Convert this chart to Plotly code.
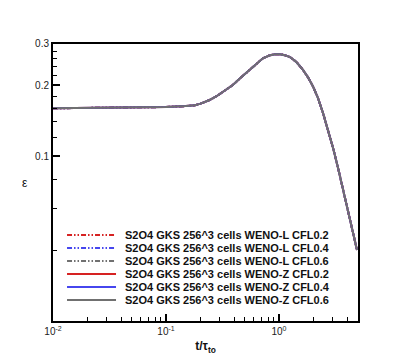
import plotly.graph_objects as go

# time t/tau_to and dissipation rate epsilon (all runs overlap)
t = [0.01, 0.02, 0.05, 0.1, 0.15, 0.18, 0.2, 0.24, 0.28, 0.33, 0.39, 0.46, 0.55,
     0.63, 0.72, 0.82, 0.92, 1.02, 1.12, 1.25, 1.42, 1.63, 1.8, 2.0, 2.2, 2.45,
     2.7, 3.0, 3.3, 3.68, 4.2, 4.9]
eps = [0.160, 0.1605, 0.161, 0.162, 0.1635, 0.1648, 0.167, 0.173, 0.180, 0.190,
       0.201, 0.216, 0.233, 0.248, 0.261, 0.268, 0.2715, 0.2715, 0.269, 0.264,
       0.252, 0.233, 0.217, 0.198, 0.178, 0.153, 0.131, 0.109, 0.091, 0.072,
       0.055, 0.040]

names = ["S2O4 GKS 256^3 cells WENO-L CFL0.2",
         "S2O4 GKS 256^3 cells WENO-L CFL0.4",
         "S2O4 GKS 256^3 cells WENO-L CFL0.6",
         "S2O4 GKS 256^3 cells WENO-Z CFL0.2",
         "S2O4 GKS 256^3 cells WENO-Z CFL0.4",
         "S2O4 GKS 256^3 cells WENO-Z CFL0.6"]
series = [eps, eps, eps, eps, eps, eps]
colors = ["#d62222", "#4646ee", "#707070", "#d62222", "#4646ee", "#707070"]
dashdotdot = "5px,2px,1.5px,2px,1.5px,2px"
dashes = [dashdotdot, dashdotdot, dashdotdot, "solid", "solid", "solid"]

x_major = [0.01, 0.1, 1]
x_major_text = ["10<sup>-2</sup>", "10<sup>-1</sup>", "10<sup>0</sup>"]
x_minor = [m * d for d in (0.01, 0.1, 1) for m in range(2, 10) if m * d <= 5]
y_major = [0.1, 0.2, 0.3]
y_minor = [0.02, 0.04, 0.06, 0.08, 0.12, 0.14, 0.16, 0.18, 0.22, 0.24, 0.26, 0.28]

fig = go.Figure()
shapes = []
annos = []
row_y = [0.3105, 0.2635, 0.2166, 0.1697, 0.1227, 0.0758]
for i, name in enumerate(names):
    fig.add_trace(go.Scatter(x=t, y=series[i], mode="lines", name=name,
                             line=dict(color=colors[i], width=2, dash=dashes[i]),
                             showlegend=False))
    # hand-made legend (compact rows like the original)
    shapes.append(dict(type="line", xref="paper", yref="paper",
                       x0=0.046, x1=0.2066, y0=row_y[i], y1=row_y[i],
                       line=dict(color=colors[i], width=2, dash=dashes[i])))
    annos.append(dict(text="<b>" + name + "</b>", xref="paper", yref="paper",
                      x=0.2295, y=row_y[i], xanchor="left", yanchor="middle",
                      showarrow=False, font=dict(size=11, color="#111")))

annos.append(dict(text="ε", xref="paper", yref="paper", x=-0.108, y=0.5,
                  showarrow=False, font=dict(size=12, color="#111")))

axis_common = dict(showgrid=False, zeroline=False, showline=True, linecolor="black",
                   linewidth=2, mirror=True, ticks="inside", ticklen=7, tickwidth=1.5,
                   tickcolor="black", tickfont=dict(size=10, color="#222"))

# page has an 8px body margin, so the figure is a little smaller than the window
fig.update_layout(
    width=399, height=354,
    margin=dict(l=45, r=49, t=36, b=41),
    plot_bgcolor="white", paper_bgcolor="white",
    font=dict(family="Liberation Sans, Arial, sans-serif"),
    shapes=shapes, annotations=annos,
    xaxis=dict(type="log", range=[-2, 0.699], tickmode="array",
               tickvals=x_major, ticktext=x_major_text,
               minor=dict(tickmode="array", tickvals=x_minor, ticks="inside",
                          ticklen=4, tickcolor="black", tickwidth=1),
               title=dict(text="<b>t/τ<sub>to</sub></b>", font=dict(size=12, color="#111"),
                          standoff=6),
               **axis_common),
    yaxis=dict(type="log", range=[-1.699, -0.5229], tickmode="array",
               tickvals=y_major, ticktext=["0.1", "0.2", "0.3"],
               minor=dict(tickmode="array", tickvals=y_minor, ticks="inside",
                          ticklen=4, tickcolor="black", tickwidth=1),
               **axis_common),
)

fig.write_html("out.html")
